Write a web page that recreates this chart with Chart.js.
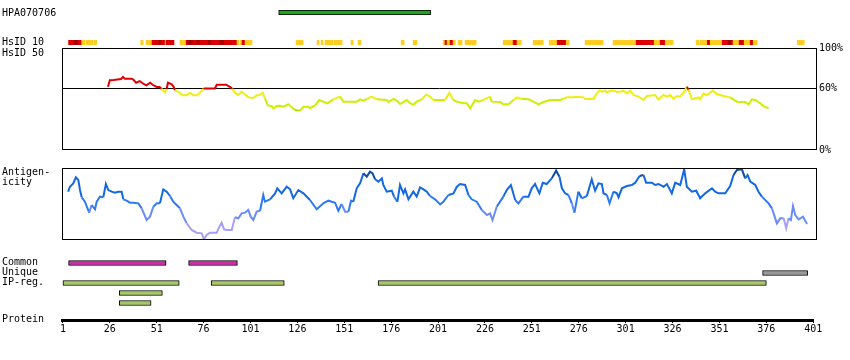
<!DOCTYPE html>
<html>
<head>
<meta charset="utf-8">
<script src="https://cdn.jsdelivr.net/npm/chart.js"></script>
<style>
  body { margin: 0; background: #fff; }
  #wrap { position: relative; width: 850px; height: 360px; overflow: hidden; font-family: "DejaVu Sans Mono", monospace; font-size: 10px; color: #000; }
  #wrap canvas { position: absolute; left: 0; }
  .lbl { position: absolute; left: 2px; line-height: 10px; white-space: nowrap; }
</style>
</head>
<body>
<div id="wrap">
  <canvas id="c-hpa" width="850" height="5" style="top:10px"></canvas>
  <canvas id="c-hsid10" width="850" height="5" style="top:40px"></canvas>
  <canvas id="c-hsid50" width="850" height="122" style="top:38px"></canvas>
  <canvas id="c-antigen" width="850" height="90" style="top:160px"></canvas>
  <canvas id="c-features" width="850" height="50" style="top:258px"></canvas>
  <canvas id="c-protein" width="850" height="52" style="top:294px"></canvas>

  <div class="lbl" style="top:8px">HPA070706</div>
  <div class="lbl" style="top:37px">HsID 10</div>
  <div class="lbl" style="top:48px">HsID 50</div>
  <div class="lbl" style="top:167px">Antigen-</div>
  <div class="lbl" style="top:177px">icity</div>
  <div class="lbl" style="top:257px">Common</div>
  <div class="lbl" style="top:267px">Unique</div>
  <div class="lbl" style="top:277px">IP-reg.</div>
  <div class="lbl" style="top:314px">Protein</div>
</div>
<script>
const tickLabels = [1, 26, 51, 76, 101, 126, 151, 176, 201, 226, 251, 276, 301, 326, 351, 376, 401];
const hsidTicks = [0, 60, 100];

const hpaRegion = [116, 197];

// [from, to, level] 1 = yellow, 2 = red, 3 = dark red
const hsid10Segments = [
  [4, 7, 2], [7, 9, 3], [9, 11, 2], [11, 12.7, 1], [13.3, 17, 1], [17.5, 19, 1],
  [42.5, 43.7, 1], [45.3, 48.5, 1], [48.5, 52.2, 2], [52.2, 53.3, 3], [53.3, 55.5, 2], [55.5, 56, 1], [56, 60.2, 2],
  [63.4, 66.1, 1], [66.6, 67.7, 2], [67.7, 70.3, 3], [70.3, 72.5, 2], [72.5, 74.1, 3], [74.1, 78.3, 2], [78.3, 79.9, 3],
  [79.9, 84.7, 2], [84.7, 86.9, 3], [86.9, 93.8, 2], [93.8, 94.9, 1], [95.5, 96.5, 1], [96.5, 98.1, 2], [98.1, 101.8, 1],
  [125.3, 129, 1],
  [136.5, 137.5, 1], [138.6, 139.7, 1], [140.7, 145, 1], [145.5, 149.8, 1],
  [154.6, 155.7, 1], [158.3, 159.9, 1],
  [181.3, 182.9, 1], [187.7, 189.8, 1],
  [203.7, 204.7, 1], [204.7, 205.8, 2], [205.8, 207.4, 1], [207.4, 209, 2], [209, 210.1, 1],
  [211.7, 213.8, 1], [215.4, 221.3, 1],
  [235.7, 241, 1], [241, 243.1, 2], [243.1, 245.3, 1],
  [251.7, 257, 1],
  [260.2, 262.3, 1], [262.5, 264.5, 1], [264.5, 269.3, 2], [269.3, 270.9, 1],
  [279.4, 289, 1],
  [294.3, 306.6, 1], [306.6, 316.2, 2], [316.2, 319.4, 1], [319.4, 322.1, 2], [322.1, 326.3, 1],
  [338.6, 340.2, 1], [340.7, 344.5, 1], [344.5, 346.1, 2], [346.1, 352.5, 1], [352.5, 355.7, 2], [355.7, 357.3, 3],
  [357.3, 358.3, 2], [358.3, 361.5, 1], [361.5, 364.2, 2], [364.2, 367.4, 1], [367.4, 369, 2], [369, 371.1, 1],
  [392.5, 396.2, 1]
];

const hsid50Residues = [
  25, 26, 28, 32, 33, 34, 37.5, 38.5, 40, 42, 44, 45.5, 47.5, 49, 51, 52.5, 53.5, 54.5, 55.5, 56.3,
  57, 59, 60, 60.7, 62.5, 65, 67, 68.7, 70.5, 72.3, 74, 75.5, 76, 82, 83, 88, 90, 91.3, 92.7, 94.5,
  96.3, 98, 100, 102.5, 104.3, 105.7, 107.5, 108.7, 110.2, 112.3, 113.2, 115, 116.7, 118.5, 121.2, 123, 124.7, 127.4, 129.2, 131.8,
  132.7, 135.4, 137.7, 139.8, 142, 145.2, 148.7, 150.5, 157.6, 159.4, 161.2, 163, 165.6, 168.3, 173.6, 174.5, 177.2, 179, 180.7, 182.5,
  184.3, 186.1, 187.8, 189.6, 192.3, 194.6, 196.7, 198.5, 204.7, 207, 209.1, 211, 214.5, 216.3, 218.1, 220.7, 222.5, 224.3, 228.7, 229.6,
  234.1, 235.8, 238.5, 241.2, 243, 245.6, 249.2, 251.8, 254.5, 257.2, 260.7, 266.1, 267.8, 269.6, 272.3, 274.1, 278.5, 279.4, 283.8, 285.6,
  287, 288.3, 290.1, 291, 292.7, 294.5, 296.3, 298.1, 299.8, 301.6, 303.4, 305.2, 307.8, 310.5, 312.3, 316.7, 318.5, 321.2, 323, 324.7,
  326.5, 328.3, 330.1, 332.2, 333.6, 334.5, 336.3, 338.1, 339.8, 340.7, 342.5, 344.2, 347.5, 349.6, 353.2, 356.7, 360.3, 364.7, 366.5, 368.3,
  370.1, 372.7, 374.5, 377.2
];
const hsid50Values = [
  62, 68.5, 68.6, 69.6, 71.6, 69.9, 69.9, 69, 66, 67.6, 64.7, 63.4, 66, 63.7, 61.8, 61.8, 60.1, 58.1, 56.6, 60,
  66, 64.4, 62, 58.8, 56.9, 53.6, 53.6, 56.2, 53.6, 53.6, 56.2, 58.8, 60.3, 60.3, 64, 64, 62, 60, 56.2, 53.9,
  57.2, 54.5, 51.6, 51, 53.6, 53.9, 56.2, 50.6, 43.8, 43.1, 40.8, 43.1, 43.4, 42.5, 44.8, 41.8, 39.2, 38.6, 42.5, 42.5,
  41, 43.8, 49, 47.4, 45.8, 49.7, 52.3, 47.4, 47.4, 49.7, 48.4, 50, 52.3, 49.7, 49, 47, 50, 48.4, 45.1, 47,
  49, 45.8, 44.4, 47.4, 49.7, 54.2, 52.3, 49, 49, 56.2, 49, 47.4, 45.8, 45.8, 40.8, 49, 47.4, 48.4, 52.3, 47.4,
  47, 44.8, 44.8, 49, 51.6, 50, 49.7, 47.4, 44.8, 47, 49, 49, 50.3, 51.6, 51.6, 52.3, 51.6, 50, 50, 55.6,
  58.2, 57.2, 58.2, 56.2, 58.2, 58.2, 57.2, 57.2, 58.2, 55.6, 58.2, 53.9, 52.3, 49, 52.9, 53.9, 49.7, 53.9, 52.3, 53.9,
  50.3, 52.9, 52.3, 57.2, 62.1, 59, 49.7, 50.7, 51.6, 49.7, 55.6, 53.9, 58.2, 54.9, 52.9, 51.6, 47.4, 47, 44.8, 49.7,
  49, 45.8, 43.1, 40.8
];

const antigenResidues = [
  3.8, 4.7, 6.5, 7.9, 9.2, 10.1, 11, 12.7, 15, 16.3, 18.1, 19, 20.7, 22.5, 23.9, 25.2, 27, 28.7, 30.5, 32.3,
  33.2, 35, 36.7, 38.5, 41.2, 43, 45.6, 47.4, 49.2, 51, 52.7, 54.5, 56.3, 58.1, 59.8, 61.6, 63.4, 65.2, 67, 69.6,
  72.3, 75, 76.2, 77.6, 79.4, 83, 84.4, 85.6, 86.9, 88.3, 91, 92.7, 94.5, 96.3, 98.1, 99.8, 101.1, 102.5, 104.3, 106.1,
  107.8, 108.7, 111.4, 114.1, 115.3, 117.6, 120.3, 122.1, 123.8, 126.5, 129.2, 132.7, 136.3, 139.8, 142.5, 146.1, 147.8, 149.6, 151.4, 153.2,
  154.6, 155.8, 157.6, 159.4, 161.2, 163, 164.7, 166.1, 167.4, 169.2, 171, 171.8, 173.6, 176.3, 177.5, 179.3, 180.7, 182.5, 183.4, 185.2,
  187.8, 189.6, 191.4, 193.2, 195, 196.7, 199.4, 202.1, 203.8, 206.5, 209.2, 211, 212.7, 215.4, 217.2, 218.9, 221.6, 224.3, 227, 228.7,
  230, 232.3, 235.8, 237.6, 239.8, 242.1, 243.8, 246.5, 249.2, 250.9, 252.7, 255, 256.8, 258.9, 261.6, 263.9, 265.7, 267, 268.7, 270.5,
  272.3, 273.7, 275.8, 277.6, 280.3, 282.9, 284.7, 286.5, 288.3, 289.2, 291, 292.4, 294.5, 296.3, 297.2, 299, 301.6, 304.3, 306.1, 308.4,
  310.5, 311.9, 315, 316.7, 318.5, 321.2, 323, 325.6, 327.4, 330.1, 332.2, 333.6, 336.3, 338.6, 340.7, 343.4, 347, 348.7, 350.5, 354.1,
  356.7, 358.5, 360.3, 363, 364.7, 366, 367.4, 370.1, 371.8, 373.6, 377.2, 379, 381.6, 383.4, 385.2, 386.6, 387.8, 389.1, 390.2, 391.4,
  393.2, 395.5, 397.7
];
const antigenValues = [
  67, 74, 78.7, 87, 83.3, 69.4, 59.3, 53.2, 38, 48.6, 42.6, 53.2, 60.2, 59.3, 77.8, 69.4, 67.1, 65.7, 67.1, 67.1,
  56.5, 54.6, 51.8, 51.8, 50.9, 44, 27.8, 32.4, 46.3, 50.9, 50.9, 70.4, 67.1, 61.1, 53.2, 48.6, 44, 32.4, 23.1, 13.9,
  10.2, 9.3, 0.9, 6.9, 10.2, 10.2, 18.5, 24.1, 14.8, 13.9, 13.9, 31.5, 30.1, 37, 38, 41.7, 32.4, 27.8, 39.4, 40.7,
  62.5, 53.2, 56.5, 64.8, 71.8, 64.8, 74, 70.4, 57.9, 69.4, 64.8, 55.6, 42.6, 50.9, 54.6, 51.8, 40.7, 50, 39.4, 39.4,
  54.6, 53.2, 71.8, 78.7, 92.6, 88, 94.9, 92.6, 84.3, 81, 85.6, 76.4, 67.1, 68.5, 60.2, 53.2, 76.4, 64.8, 70.4, 56.5,
  67.1, 60.2, 73.1, 70.4, 67.1, 61.1, 56.5, 49.5, 53.2, 62.5, 64.8, 74, 77.8, 76.4, 62.5, 56.5, 53.2, 41.7, 34.7, 37,
  27.8, 46.3, 60.2, 69.4, 76.4, 55.6, 50.9, 60.2, 60.2, 71.8, 77.8, 64.8, 79.6, 77.8, 85.6, 96.3, 88, 71.8, 64.8, 62.5,
  50.9, 38, 67.1, 57.9, 61.1, 84.3, 68.5, 78.7, 77.8, 64.8, 62.5, 50.9, 67.1, 64.8, 59.3, 71.8, 75, 76.4, 79.6, 88.9,
  90.3, 79.6, 79.6, 76.4, 77.8, 74, 77.8, 64.8, 79.6, 76.4, 98.1, 74, 67.1, 68.5, 57.9, 64.8, 71.8, 67.1, 64.8, 64.8,
  75, 90.3, 97.2, 98.1, 85.6, 90.3, 81, 76.4, 67.1, 60.2, 50.9, 44, 23.1, 30.1, 30.1, 16.2, 30.1, 27.8, 47.2, 34.7,
  28.7, 32.4, 22.2
];

const featureRows = ['Common', 'Unique', 'IP-reg.', ' ', '  '];
const commonRegions = [[4, 56], [68, 94]];
const uniqueRegions = [[374, 398]];
const ipRegions = [[1, 63], [80, 119], [169, 376]];
const ipRegions2 = [[31, 54]];
const ipRegions3 = [[31, 48]];

Chart.defaults.font.family = '"DejaVu Sans Mono", monospace';
Chart.defaults.font.size = 10;
Chart.defaults.color = '#000';

const idColors = { 1: '#ffcc22', 2: '#dd0000', 3: '#a80000' };

function hsidColor(v) {
  if (v >= 60) return '#e00000';
  if (v >= 50) return '#eeee14';
  if (v >= 40) return '#ccf000';
  return '#a6e400';
}

function antigenColor(v) {
  if (v >= 88) return '#0b4da2';
  if (v >= 60) return '#1468e0';
  if (v >= 45) return '#2f7af2';
  if (v >= 25) return '#6a8cf8';
  return '#a8a0f8';
}

const xAxis = () => ({ type: 'linear', min: 0.5, max: 403, display: false });

function baseOptions(extra) {
  return Object.assign({
    responsive: false,
    animation: false,
    events: [],
    layout: { padding: { left: 62, right: 33, top: 0, bottom: 0 } },
    plugins: { legend: { display: false }, tooltip: { enabled: false } }
  }, extra);
}

const frame = {
  id: 'frame',
  afterDraw(chart) {
    const { ctx, chartArea: a } = chart;
    ctx.save();
    ctx.strokeStyle = '#000';
    ctx.lineWidth = 1;
    ctx.strokeRect(a.left + 0.5, a.top + 0.5, a.right - a.left - 1, a.bottom - a.top - 1);
    ctx.restore();
  }
};

// HPA070706 antigen bar
new Chart(document.getElementById('c-hpa'), {
  type: 'bar',
  data: {
    labels: ['HPA070706'],
    datasets: [{
      data: [{ x: hpaRegion, y: 'HPA070706' }],
      backgroundColor: '#22a31f', borderColor: '#000', borderWidth: 1, borderSkipped: false,
      categoryPercentage: 1, barPercentage: 1
    }]
  },
  options: baseOptions({ indexAxis: 'y', scales: { x: xAxis(), y: { type: 'category', display: false } } })
});

// HsID 10 strip
new Chart(document.getElementById('c-hsid10'), {
  type: 'bar',
  data: {
    labels: ['HsID 10'],
    datasets: [{
      data: hsid10Segments.map(s => ({ x: [s[0], s[1]], y: 'HsID 10' })),
      backgroundColor: hsid10Segments.map(s => idColors[s[2]]),
      borderWidth: 0,
      categoryPercentage: 1, barPercentage: 1
    }]
  },
  options: baseOptions({ indexAxis: 'y', scales: { x: xAxis(), y: { type: 'category', display: false } } })
});

// HsID 50 line
new Chart(document.getElementById('c-hsid50'), {
  type: 'line',
  data: {
    datasets: [{
      data: hsid50Residues.map((r, i) => ({ x: r, y: hsid50Values[i] })),
      borderWidth: 2, pointRadius: 0, tension: 0, fill: false,
      borderColor: '#eeee14',
      segment: { borderColor: c => hsidColor((c.p0.parsed.y + c.p1.parsed.y) / 2) }
    }]
  },
  options: baseOptions({
    layout: { padding: { left: 62, right: 0, top: 10, bottom: 10 } },
    scales: {
      x: xAxis(),
      y: {
        position: 'right', min: 0, max: 100,
        afterBuildTicks: s => { s.ticks = hsidTicks.map(v => ({ value: v })); },
        afterFit: s => { s.width = 33; },
        grid: { drawTicks: false, lineWidth: 1, color: c => (c.tick && c.tick.value === 60 ? '#000' : 'rgba(0,0,0,0)') },
        border: { display: false },
        ticks: { padding: 2, color: '#000', callback: v => v + '%' }
      }
    }
  }),
  plugins: [frame]
});

// Antigenicity line
new Chart(document.getElementById('c-antigen'), {
  type: 'line',
  data: {
    datasets: [{
      data: antigenResidues.map((r, i) => ({ x: r, y: antigenValues[i] })),
      borderWidth: 2, pointRadius: 0, tension: 0, fill: false,
      borderColor: '#1468e0',
      segment: { borderColor: c => antigenColor((c.p0.parsed.y + c.p1.parsed.y) / 2) }
    }]
  },
  options: baseOptions({
    layout: { padding: { left: 62, right: 33, top: 8, bottom: 10 } },
    scales: { x: xAxis(), y: { min: 0, max: 100, display: false } }
  }),
  plugins: [frame]
});

// Common / Unique / IP-reg. regions
const rowData = (regions, row) => regions.map(r => ({ x: r, y: row }));
const featureSet = (regions, row, color) => ({
  data: rowData(regions, row),
  backgroundColor: color, borderColor: '#000', borderWidth: 1, borderSkipped: false,
  barThickness: 5, grouped: false
});
new Chart(document.getElementById('c-features'), {
  type: 'bar',
  data: {
    labels: featureRows,
    datasets: [
      featureSet(commonRegions, featureRows[0], '#cc2ea8'),
      featureSet(uniqueRegions, featureRows[1], '#999999'),
      featureSet(ipRegions, featureRows[2], '#a6c864'),
      featureSet(ipRegions2, featureRows[3], '#a6c864'),
      featureSet(ipRegions3, featureRows[4], '#a6c864')
    ]
  },
  options: baseOptions({ indexAxis: 'y', scales: { x: xAxis(), y: { type: 'category', display: false } } })
});

// Protein axis (ends at residue 401, same pixel scale as the panels)
new Chart(document.getElementById('c-protein'), {
  type: 'line',
  data: { datasets: [] },
  options: baseOptions({
    layout: { padding: { left: 62, right: 36.8, top: 0, bottom: 0 } },
    scales: {
      x: {
        type: 'linear', min: 0.5, max: 401, position: 'bottom',
        afterBuildTicks: s => { s.ticks = tickLabels.map(v => ({ value: v })); },
        afterFit: s => { s.height = 26; },
        grid: { drawOnChartArea: false, drawTicks: true, tickLength: 3, color: '#000', lineWidth: 1 },
        border: { display: true, color: '#000', width: 3 },
        ticks: { color: '#000', padding: 0, maxRotation: 0, autoSkip: false }
      },
      y: { display: false, min: 0, max: 1 }
    }
  })
});
</script>
</body>
</html>
